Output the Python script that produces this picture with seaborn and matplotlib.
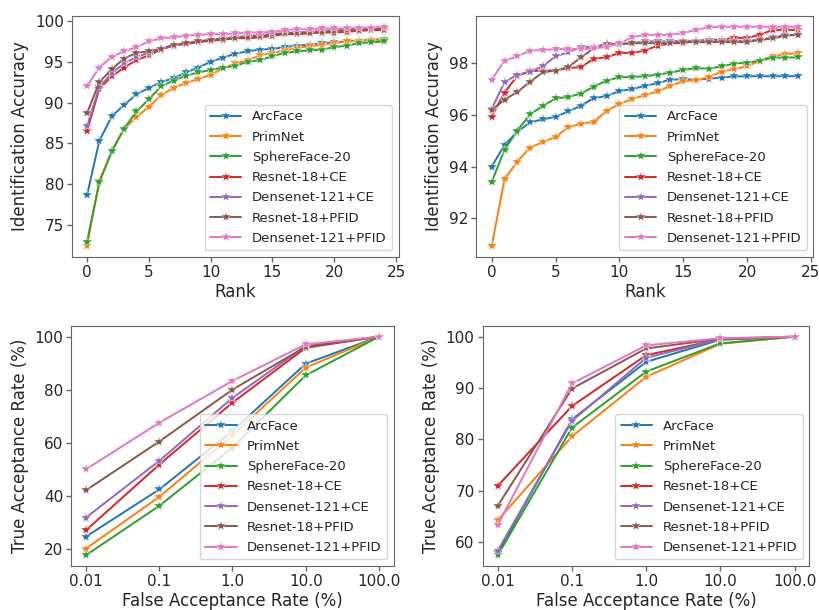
import numpy as np
import pandas as pd
import matplotlib
matplotlib.use("Agg")
import matplotlib.pyplot as plt
import seaborn as sns

# method names (legend order)
methods = ["ArcFace", "PrimNet", "SphereFace-20", "Resnet-18+CE",
           "Densenet-121+CE", "Resnet-18+PFID", "Densenet-121+PFID"]

ranks = list(range(25))

# identification accuracy vs rank, left panel
cmc_left = {
    "ArcFace": [78.6, 85.3, 88.3, 89.7, 91.0, 91.8, 92.5, 93.0, 93.7, 94.3, 95.0, 95.5, 96.0,
                96.3, 96.5, 96.6, 96.8, 97.0, 97.1, 97.3, 97.4, 97.5, 97.6, 97.7, 97.8],
    "PrimNet": [72.4, 80.4, 84.0, 86.8, 88.2, 89.5, 90.9, 91.8, 92.4, 92.9, 93.4, 94.2, 94.8,
                95.2, 95.8, 96.1, 96.4, 96.7, 96.9, 97.1, 97.3, 97.5, 97.6, 97.7, 97.7],
    "SphereFace-20": [72.9, 80.2, 84.0, 86.8, 88.9, 90.4, 92.0, 92.7, 93.3, 93.7, 94.0, 94.3, 94.5,
                      95.0, 95.2, 95.7, 96.1, 96.3, 96.4, 96.5, 96.8, 97.0, 97.3, 97.4, 97.5],
    "Resnet-18+CE": [86.5, 91.7, 93.2, 94.3, 95.2, 95.8, 96.5, 97.0, 97.2, 97.4, 97.6, 97.7, 97.9,
                     97.9, 98.0, 98.2, 98.4, 98.4, 98.5, 98.6, 98.6, 98.7, 98.8, 98.9, 98.9],
    "Densenet-121+CE": [87.1, 91.9, 93.6, 94.8, 95.6, 96.1, 96.6, 97.0, 97.3, 97.5, 97.7, 97.9, 98.0,
                        98.2, 98.3, 98.4, 98.5, 98.6, 98.7, 98.8, 98.9, 98.9, 99.0, 99.1, 99.1],
    "Resnet-18+PFID": [88.7, 92.5, 94.1, 95.4, 96.1, 96.3, 96.6, 97.1, 97.3, 97.5, 97.7, 97.8, 97.9,
                       98.1, 98.2, 98.4, 98.5, 98.6, 98.6, 98.7, 98.8, 98.9, 98.9, 99.0, 99.1],
    "Densenet-121+PFID": [92.0, 94.3, 95.6, 96.3, 96.8, 97.5, 97.9, 98.0, 98.2, 98.3, 98.4, 98.4, 98.5,
                          98.6, 98.6, 98.7, 98.9, 99.0, 99.0, 99.1, 99.1, 99.1, 99.2, 99.2, 99.3],
}

# identification accuracy vs rank, right panel
cmc_right = {
    "ArcFace": [94.0, 94.85, 95.34, 95.72, 95.83, 95.93, 96.14, 96.36, 96.66, 96.73, 96.93, 97.0, 97.13,
                97.23, 97.37, 97.38, 97.37, 97.4, 97.45, 97.49, 97.5, 97.5, 97.5, 97.5, 97.5],
    "PrimNet": [90.94, 93.51, 94.2, 94.74, 94.95, 95.15, 95.53, 95.66, 95.74, 96.15, 96.43, 96.62, 96.77,
                96.91, 97.13, 97.31, 97.34, 97.47, 97.68, 97.78, 97.88, 98.1, 98.28, 98.35, 98.39],
    "SphereFace-20": [93.41, 94.66, 95.4, 96.02, 96.35, 96.64, 96.7, 96.83, 97.1, 97.33, 97.46, 97.47, 97.5,
                      97.56, 97.64, 97.74, 97.81, 97.79, 97.88, 97.99, 98.03, 98.1, 98.22, 98.22, 98.23],
    "Resnet-18+CE": [95.94, 96.87, 97.51, 97.69, 97.72, 97.72, 97.82, 97.85, 98.18, 98.23, 98.4, 98.4, 98.49,
                     98.68, 98.77, 98.78, 98.87, 98.91, 98.91, 98.98, 98.98, 99.1, 99.29, 99.29, 99.29],
    "Densenet-121+CE": [96.24, 97.27, 97.56, 97.68, 97.88, 98.27, 98.42, 98.63, 98.63, 98.75, 98.75, 98.77, 98.85,
                        98.85, 98.85, 98.87, 98.87, 98.87, 98.87, 98.87, 98.87, 98.91, 99.0, 99.09, 99.1],
    "Resnet-18+PFID": [96.2, 96.59, 96.89, 97.28, 97.65, 97.72, 97.85, 98.23, 98.58, 98.75, 98.75, 98.77, 98.78,
                       98.78, 98.78, 98.82, 98.82, 98.82, 98.82, 98.82, 98.82, 98.9, 98.96, 99.07, 99.1],
    "Densenet-121+PFID": [97.37, 98.1, 98.27, 98.49, 98.51, 98.55, 98.55, 98.55, 98.58, 98.63, 98.77, 99.0, 99.1,
                          99.1, 99.1, 99.17, 99.29, 99.39, 99.41, 99.41, 99.41, 99.41, 99.41, 99.41, 99.41],
}

far_labels = ["0.01", "0.1", "1.0", "10.0", "100.0"]

# true acceptance rate vs FAR, left panel
roc_left = {
    "ArcFace": [24.5, 42.3, 64.4, 89.8, 100.0],
    "PrimNet": [20.0, 39.5, 62.8, 88.3, 100.0],
    "SphereFace-20": [17.5, 36.1, 58.1, 85.4, 100.0],
    "Resnet-18+CE": [26.9, 51.7, 75.1, 95.8, 100.0],
    "Densenet-121+CE": [31.7, 53.1, 76.9, 96.5, 100.0],
    "Resnet-18+PFID": [42.0, 60.4, 80.0, 96.2, 100.0],
    "Densenet-121+PFID": [49.9, 67.5, 83.3, 97.1, 100.0],
}

# true acceptance rate vs FAR, right panel
roc_right = {
    "ArcFace": [57.9, 83.9, 95.1, 99.4, 100.0],
    "PrimNet": [64.3, 80.6, 92.2, 98.6, 100.0],
    "SphereFace-20": [57.5, 82.3, 93.2, 98.7, 100.0],
    "Resnet-18+CE": [71.0, 86.5, 96.4, 99.5, 100.0],
    "Densenet-121+CE": [58.4, 83.6, 95.9, 99.5, 100.0],
    "Resnet-18+PFID": [67.1, 89.9, 97.7, 99.6, 100.0],
    "Densenet-121+PFID": [63.4, 90.9, 98.3, 99.7, 100.0],
}

sns.set_style("white")
plt.rcParams["font.family"] = ["DejaVu Sans"]
plt.rcParams["axes.edgecolor"] = "0.4"
palette = sns.color_palette("tab10", len(methods))

fig = plt.figure(figsize=(8.2, 6.1), dpi=100)
ax_tl = fig.add_axes([0.088, 0.579, 0.398, 0.395])
ax_tr = fig.add_axes([0.581, 0.579, 0.411, 0.395])
ax_bl = fig.add_axes([0.087, 0.072, 0.393, 0.394])
ax_br = fig.add_axes([0.589, 0.072, 0.398, 0.394])

LABEL_FS = 12


def draw(ax, xs, data):
    for name, col in zip(methods, palette):
        sns.lineplot(x=xs, y=data[name], ax=ax, color=col, marker="*",
                     markersize=7, markeredgewidth=0.3, linewidth=1.4, label=name)
    ax.legend(loc="lower right", fontsize=9.5, handlelength=2.4, labelspacing=0.55)
    ax.tick_params(axis="both", which="both", bottom=True, left=True,
                   length=3.5, width=1, color="0.4", labelsize=11, pad=2.5)


# ---- rank curves ----
draw(ax_tl, ranks, cmc_left)
ax_tl.set_xlabel("Rank", fontsize=LABEL_FS, labelpad=2)
ax_tl.set_ylabel("Identification Accuracy", fontsize=LABEL_FS, labelpad=4)
ax_tl.set_xticks([0, 5, 10, 15, 20, 25])
ax_tl.set_yticks([75, 80, 85, 90, 95, 100])

draw(ax_tr, ranks, cmc_right)
ax_tr.set_xlabel("Rank", fontsize=LABEL_FS, labelpad=2)
ax_tr.set_ylabel("Identification Accuracy", fontsize=LABEL_FS, labelpad=4)
ax_tr.set_xticks([0, 5, 10, 15, 20, 25])
ax_tr.set_yticks([92, 94, 96, 98])

# ---- FAR curves ----
far_pos = list(range(len(far_labels)))
draw(ax_bl, far_pos, roc_left)
ax_bl.set_xticks(far_pos)
ax_bl.set_xticklabels(far_labels)
ax_bl.set_yticks([20, 40, 60, 80, 100])
ax_bl.set_xlabel("False Acceptance Rate (%)", fontsize=LABEL_FS, labelpad=2)
ax_bl.set_ylabel("True Acceptance Rate (%)", fontsize=LABEL_FS, labelpad=4)

draw(ax_br, far_pos, roc_right)
ax_br.set_xticks(far_pos)
ax_br.set_xticklabels(far_labels)
ax_br.set_yticks([60, 70, 80, 90, 100])
ax_br.set_xlabel("False Acceptance Rate (%)", fontsize=LABEL_FS, labelpad=2)
ax_br.set_ylabel("True Acceptance Rate (%)", fontsize=LABEL_FS, labelpad=4)

fig.savefig("out.png", dpi=100)
